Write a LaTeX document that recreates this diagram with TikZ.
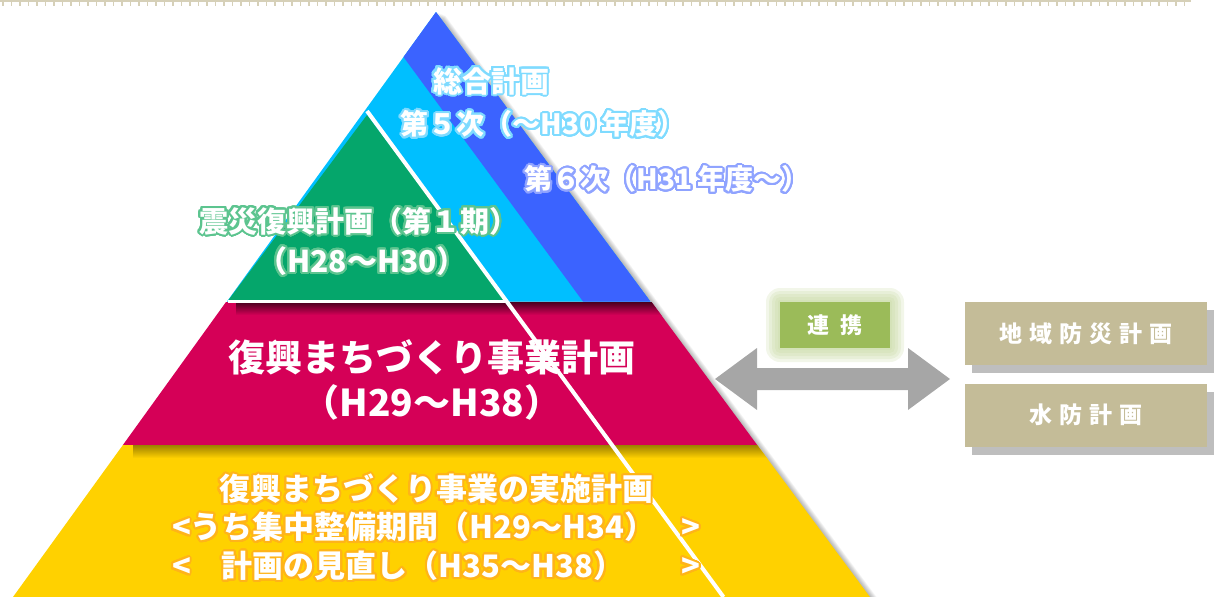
\documentclass[tikz,border=0pt]{standalone}
\usepackage{fontspec}
\setmainfont{Noto Sans CJK JP}
\usepackage{contour}
\contournumber{32}
\contourlength{2pt}
\usetikzlibrary{calc,shadows}
\definecolor{cBlue}{HTML}{3B63FF}
\definecolor{cCyan}{HTML}{00BFFF}
\definecolor{cGreen}{HTML}{05A66B}
\definecolor{cMag}{HTML}{D50057}
\definecolor{cYel}{HTML}{FFD100}
\definecolor{cYelSh}{HTML}{9C7F00}
\definecolor{cArr}{HTML}{A6A6A6}
\definecolor{cBox}{HTML}{C4BC98}
\definecolor{cBoxSh}{HTML}{BEBEBE}
\definecolor{cLink}{HTML}{9BBB59}
\definecolor{cComb}{HTML}{D6D0B8}
\definecolor{gCyan}{HTML}{7FDBFF}
\definecolor{gBlue}{HTML}{8FA3FF}
\definecolor{gGreen}{HTML}{5CC48F}
\definecolor{gOrange}{HTML}{FFB419}
\tikzset{
  lbl/.style={text=white, inner sep=0pt, anchor=center},
  sidebox/.style={fill=cBox, minimum width=242pt, minimum height=63pt, inner sep=0pt,
    text=white, font=\bfseries\fontsize{23}{26}\selectfont,
    drop shadow={shadow xshift=7pt, shadow yshift=-8pt, fill=cBoxSh, opacity=1}},
  linkbox/.style={fill=cLink, minimum width=110pt, minimum height=46pt, inner sep=0pt,
    text=white, font=\bfseries\fontsize{22}{26}\selectfont}
}
\newcommand\fs[1]{\bfseries\fontsize{#1}{#1}\selectfont}
\begin{document}
\begin{tikzpicture}[x=1pt,y=-1pt]
\useasboundingbox (0,0) rectangle (1216,597);
% top comb border
\draw[cComb, line width=2pt] (0,1) -- (1191,1);
\foreach \x in {3,11.5,...,1190} \draw[cComb, line width=1.8pt] (\x,1) -- (\x,6);
% coordinates
\coordinate (A) at (436,12);
\coordinate (Lb) at (13,597);
\coordinate (Rb) at (870,597);
% pyramid shadow (right side)
\foreach \i in {1,...,7}
  \fill[black, opacity=0.045] ($(A)+(\i*1.3,\i*0.5)$) -- ($(Rb)+(\i*1.3,\i*0.5)$) -- ($(Lb)+(\i*1.3,\i*0.5)$) -- cycle;
% top part: cyan triangle
\fill[cCyan] (A) -- (650.4,301.5) -- (227,301.5) -- cycle;
% blue polygon
\fill[cBlue] (A) -- (650.4,301.5) -- (583,301.5) -- (403.5,57) -- cycle;
% green triangle
\fill[cGreen] (367,115) -- (506,300) -- (228.5,300) -- cycle;
% magenta band
\fill[cMag] (226,302) -- (651.5,302) -- (757.2,445) -- (122.9,445) -- cycle;
\begin{scope}
  \clip (226,302) -- (651.5,302) -- (757.2,445) -- (122.9,445) -- cycle;
  \shade[top color=cMag!35!black, bottom color=cMag] (236,302) rectangle (760,315);
\end{scope}
% yellow band
\fill[cYel] (122.9,445) -- (757.2,445) -- (Rb) -- (Lb) -- cycle;
\begin{scope}
  \clip (122.9,445) -- (757.2,445) -- (Rb) -- (Lb) -- cycle;
  \shade[top color=cYelSh, bottom color=cYel] (133,445) rectangle (870,458);
\end{scope}
% white strip under green and white diagonal
\draw[white, line width=3pt] (227.5,301) -- (506,301);
\coordinate (wl1) at (367,111);
\coordinate (wl2) at (723.5,597);
\draw[white, line width=4pt] (wl1) -- (wl2);
% texts in pyramid
\node[lbl, font=\fs{29}] (sogo) at (491,82) {\contour{gCyan}{総合計画}};
\node[lbl, font=\fs{28}] (dai5) at (543,125) {\contour{gCyan}{第５次（～H30\,年度）}};
\node[lbl, font=\fs{28}] (dai6) at (667,180) {\contour{gBlue}{第６次（H31\,年度～）}};
\node[lbl, font=\fs{29}] (shin1) at (359,222) {\contour{gGreen}{震災復興計画（第１期）}};
\node[lbl, font=\fs{30}] (shin2) at (362,262) {\contour{gGreen}{（H28～H30）}};
\node[lbl, font=\fs{37}] (mach1) at (432,357) {復興まちづくり事業計画};
\node[lbl, font=\fs{37}] (mach2) at (432,402) {（H29～H38）};
\node[lbl, font=\fs{31}] (jis1) at (436,490) {\contour{gOrange}{復興まちづくり事業の実施計画}};
\node[lbl, font=\fs{31}] (jis2) at (436,528) {\contour{gOrange}{\makebox[528pt]{<うち集中整備期間（H29～H34）\hfill>}}};
\node[lbl, font=\fs{31}] (jis3) at (436,567) {\contour{gOrange}{\makebox[528pt]{<\hspace{31pt}計画の見直し（H35～H38）\hfill>}}};
% double arrow
\coordinate (arL) at (715,379);
\coordinate (arR) at (950,379);
\fill[cArr] (arL) -- (757,348) -- (757,368) -- (908,368) -- (908,348) -- (arR)
  -- (908,410) -- (908,390) -- (757,390) -- (757,410) -- cycle;
% link box glow
\foreach \d in {14,11,8,5,2}
  \fill[cLink!60!white, opacity=0.22, rounded corners=\d pt] (780-\d,302-\d) rectangle (890+\d,348+\d);
\node[linkbox] (renkei) at (835,325) {連\kern12pt 携};
% side boxes
\node[sidebox] (chiiki) at (1086,333.5) {地\kern7pt 域\kern7pt 防\kern7pt 災\kern7pt 計\kern7pt 画};
\node[sidebox] (suibo) at (1086,415) {水\kern7pt 防\kern7pt 計\kern7pt 画};
\end{tikzpicture}
\end{document}
